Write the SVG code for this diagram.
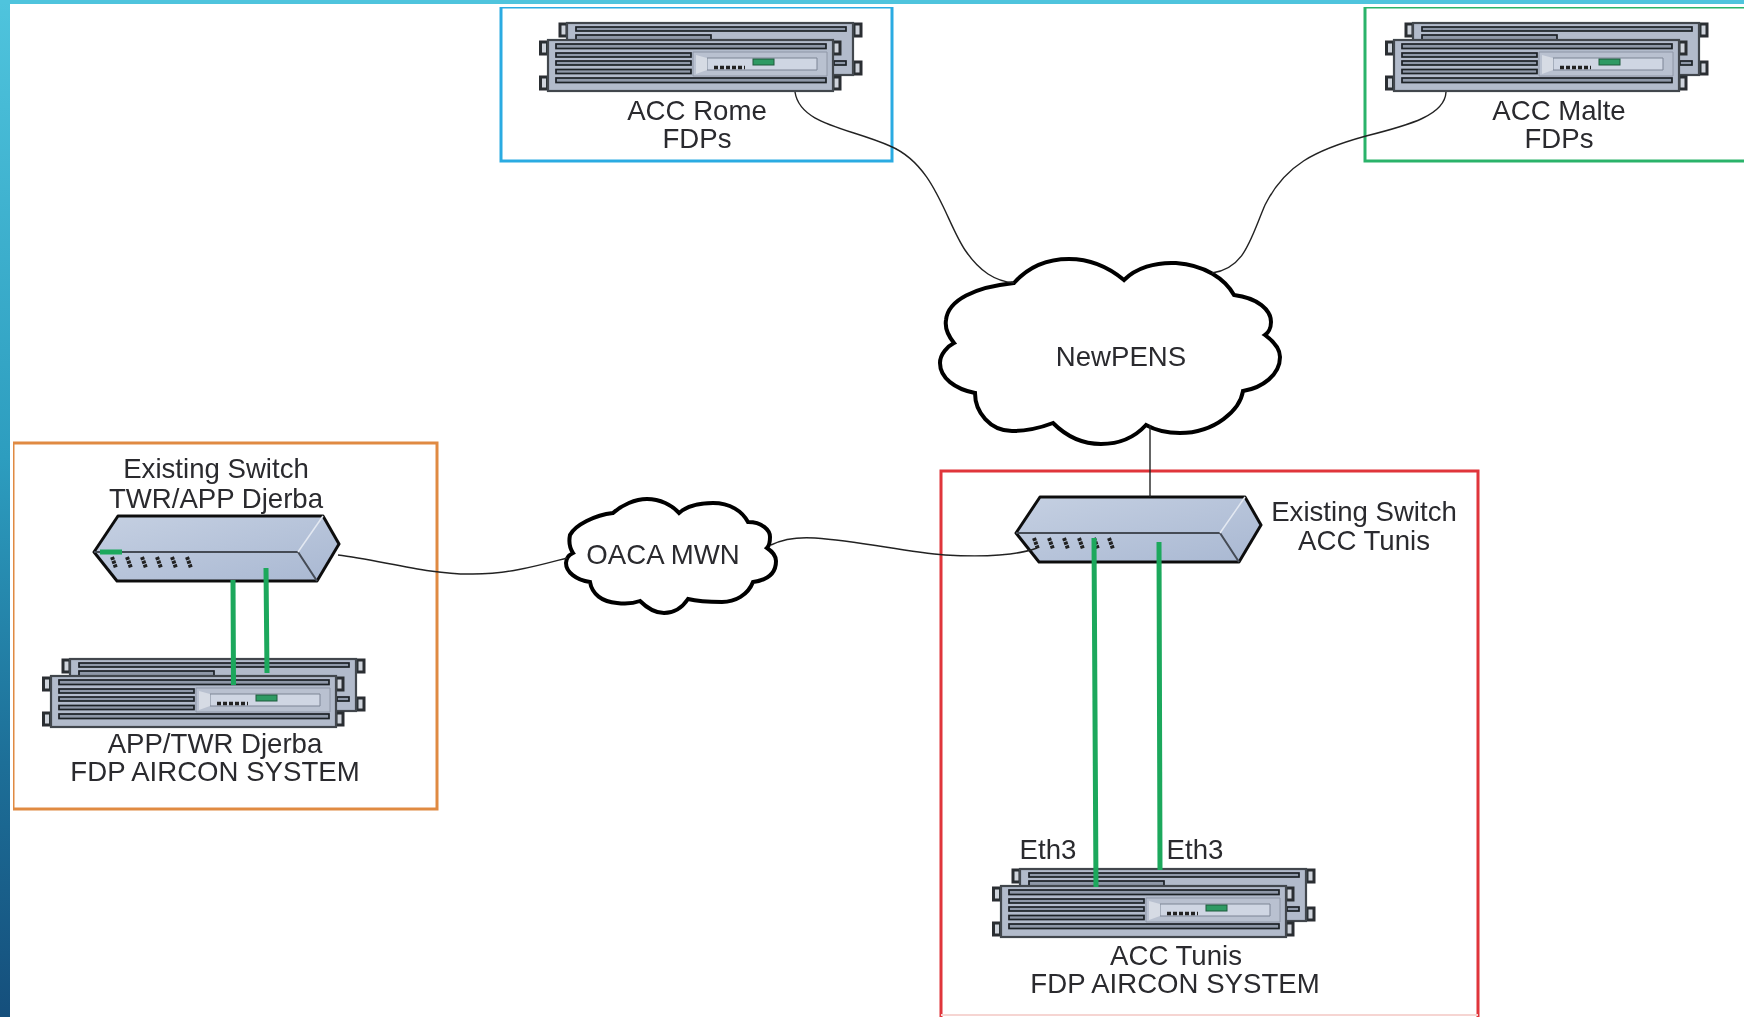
<svg xmlns="http://www.w3.org/2000/svg" width="1744" height="1017" viewBox="0 0 1744 1017">
<style>
text{font-family:"Liberation Sans",Arial,sans-serif;font-size:27.6px;fill:#2a2a2e;text-anchor:middle}
.box{fill:none;stroke-width:3}
.wire{fill:none;stroke:#222;stroke-width:1.4}
.eth{fill:none;stroke:#1aa85c;stroke-width:5}
.cloud{fill:#fff;stroke:#000;stroke-width:4;stroke-linejoin:miter}
.slot{fill:#8f98a8;stroke:#1c2026;stroke-width:1.7}
.body{fill:#b2bbcb;stroke:#42464e;stroke-width:2.2}
.ear{fill:#cfd4dc;stroke:#2b2e33;stroke-width:3}
.sw{stroke:#111;stroke-width:3;fill:url(#swg);stroke-linejoin:round}
.edge{fill:none;stroke:#454b55;stroke-width:2}
.port{stroke:#222;stroke-width:4;stroke-dasharray:3 1}
</style>
<defs>
<filter id="soft" x="0" y="0" width="100%" height="100%"><feGaussianBlur stdDeviation="0.5"/></filter>
<linearGradient id="bar" x1="0" y1="0" x2="0" y2="1"><stop offset="0" stop-color="#4fc4dd"/><stop offset=".45" stop-color="#2d9dbf"/><stop offset=".75" stop-color="#1d6f98"/><stop offset="1" stop-color="#154f7c"/></linearGradient>
<linearGradient id="swg" x1="0" y1="0" x2="1" y2="1"><stop offset="0" stop-color="#c5d0e2"/><stop offset="1" stop-color="#a9b8d2"/></linearGradient>
<g id="server">
<rect class="ear" x="21" y="-16" width="7" height="12"/><rect class="ear" x="315" y="-16" width="7" height="12"/><rect class="ear" x="315" y="22" width="7" height="12"/>
<rect class="body" x="28" y="-17" width="286" height="52"/>
<rect class="slot" x="37" y="-13" width="270" height="4"/>
<rect class="slot" x="37" y="-5" width="135" height="5"/>
<rect class="slot" x="295" y="21" width="12" height="4"/>
<rect class="ear" x="1.500" y="2" width="7" height="12"/><rect class="ear" x="1.500" y="37" width="7" height="12"/>
<rect class="ear" x="294" y="2" width="7" height="12"/><rect class="ear" x="294" y="37" width="7" height="12"/>
<rect class="body" x="9" y="0" width="285" height="51"/>
<rect class="slot" x="17" y="4" width="270" height="4.500"/>
<rect class="slot" x="17" y="13" width="135" height="4"/>
<rect class="slot" x="17" y="21" width="135" height="4"/>
<rect class="slot" x="17" y="29.500" width="135" height="4"/>
<rect class="slot" x="17" y="38" width="270" height="4.500"/>
<path d="M154 12H288V36H154Z" fill="#b9c1d0" stroke="#8e96a6"/>
<path d="M168 18H278V30H168Z" fill="#cfd6e3" stroke="#7d8595"/>
<path d="M157 15L168 18V30L157 34Z" fill="#d6dbe4"/>
<rect x="214" y="19" width="21" height="6" fill="#2f9a63" stroke="#1f5a3c"/>
<path d="M175 27.500H206" stroke="#222" stroke-width="3.400" stroke-dasharray="4 2"/>
</g>
<g id="switch">
<path class="sw" d="M0 36L24 0H229L245 28L223 65H23Z"/>
<path class="edge" d="M0 36H204L223 65"/>
<path d="M204 36L229 0" fill="none" stroke="#e4e9f2" stroke-width="1.500"/>
<path class="port" d="M18 41L22 52M33 41L37 52M48 41L52 52M63 41L67 52M78 41L82 52M93 41L97 52"/>
</g>
</defs>

<rect width="1744" height="1017" fill="#fff"/>
<rect width="10" height="1017" fill="url(#bar)"/>
<rect width="1744" height="4" fill="#4fc4dd"/>

<g filter="url(#soft)">
<g id="boxes">
<rect class="box" x="501" y="7" width="391" height="154" stroke="#29abe2"/>
<rect class="box" x="1365" y="7" width="381" height="154" stroke="#2bb36a"/>
<rect class="box" x="13" y="443" width="424" height="366" stroke="#e08a42"/>
<path class="box" d="M941 1017V471H1478V1017" stroke="#e0343a"/>
<path d="M941 1015H1478" fill="none" stroke="#f6d5d2" stroke-width="2"/>
</g>

<g id="node-rome"><use href="#server" x="539" y="40"/><text x="697" y="120">ACC Rome</text><text x="697" y="148">FDPs</text></g>
<g id="node-malte"><use href="#server" x="1385" y="40"/><text x="1559" y="120">ACC Malte</text><text x="1559" y="148">FDPs</text></g>
<g id="node-newpens"><path class="cloud" d="M1014 283C1030 265 1050 259 1069 259C1095 259 1112 270 1124 280C1136 268 1155 262 1176 263C1205 265 1225 279 1234 295C1258 298 1271 310 1271 322C1271 328 1268 333 1265 335C1276 343 1280 350 1280 357C1280 375 1262 388 1243 391C1240 410 1215 433 1180 433C1168 433 1155 430 1146 425C1135 437 1120 444 1101 444C1080 444 1065 435 1053 423C1040 428 1025 431 1012 431C990 431 975 412 975 393C955 389 940 378 940 363C940 354 948 346 954 343C946 333 945 326 946 320C948 300 975 287 1014 283Z"/><text x="1121" y="366">NewPENS</text></g>
<g id="node-oaca"><path class="cloud" d="M613 513C622 505 635 499 647 499C660 499 672 505 679 513C688 505 700 503 713 503C730 503 742 511 748 522C762 522 770 530 770 537C770 542 769 546 767 548C773 552 776 556 776 561C776 573 768 580 753 582C748 595 735 602 722 602C708 602 696 601 688 599C682 608 675 613 664 613C654 613 647 608 640 601C632 604 625 604 617 603C602 602 592 594 590 582C576 580 566 572 566 563C566 558 569 555 573 553C569 547 569 540 570 535C575 525 595 515 613 513Z"/><text x="663" y="564">OACA MWN</text></g>
<g id="node-switch-djerba"><use href="#switch" x="94" y="516"/><text x="216" y="478">Existing Switch</text><text x="216" y="508">TWR/APP Djerba</text></g>
<g id="node-server-djerba"><use href="#server" x="42" y="676"/><text x="215" y="753">APP/TWR Djerba</text><text x="215" y="781">FDP AIRCON SYSTEM</text></g>
<g id="node-switch-tunis"><use href="#switch" x="1016" y="497"/><text x="1364" y="521">Existing Switch</text><text x="1364" y="550">ACC Tunis</text></g>
<g id="node-server-tunis"><use href="#server" x="992" y="886"/><text x="1176" y="965">ACC Tunis</text><text x="1175" y="993">FDP AIRCON SYSTEM</text><text x="1048" y="859">Eth3</text><text x="1195" y="859">Eth3</text></g>

<g id="connectors">
<path class="wire" d="M795 92C800 125 850 128 890 146C935 165 945 220 965 250C980 272 995 281 1014 283"/>
<path class="wire" d="M1446 92C1445 115 1410 125 1366 136C1315 150 1285 165 1265 205C1250 240 1245 268 1212 273"/>
<path class="wire" d="M1150 425V497" stroke-width="2"/>
<path class="wire" d="M338 555C380 560 430 575 473 574C510 574 540 565 567 558"/>
<path class="wire" d="M771 545C785 538 800 537 815 538C860 541 905 552 945 555C980 557 1015 556 1037 548"/>
<path class="eth" d="M100 552H122M233 580L233.500 685M266 568L267 673M1094 538L1096 887M1159 542L1160 870"/>
</g>
</g>
</svg>
